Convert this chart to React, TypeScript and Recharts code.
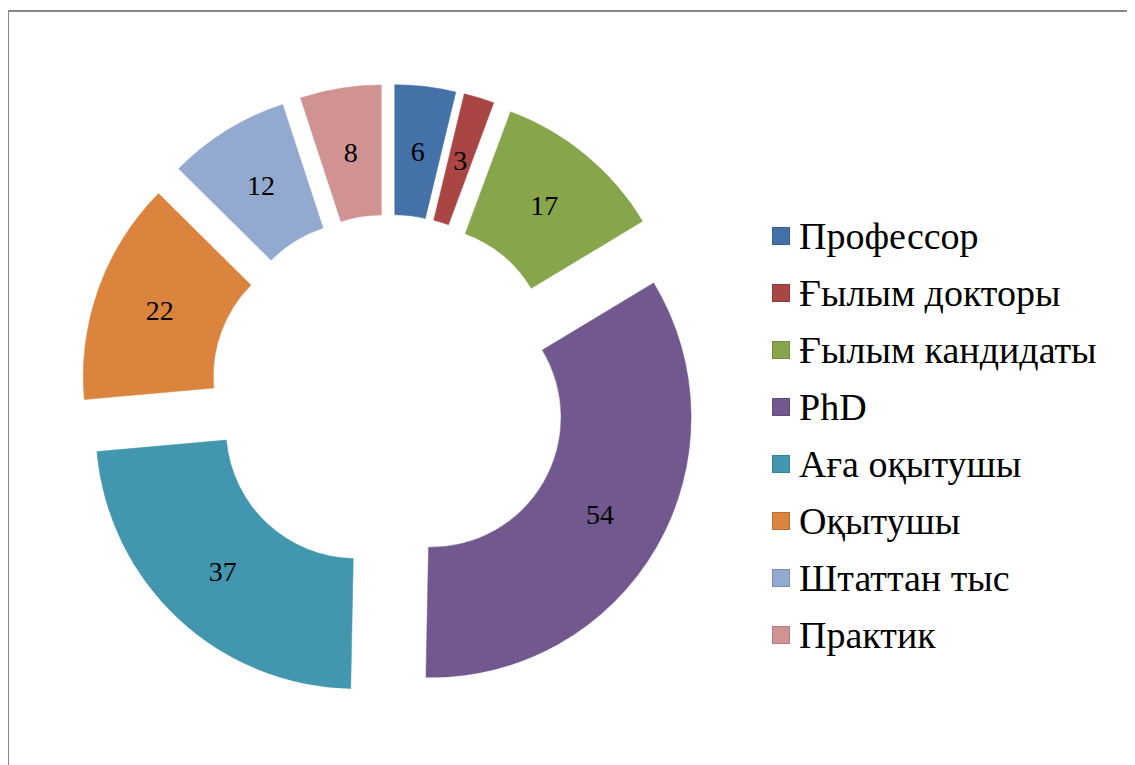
import React from "react";
import { PieChart, Pie, Cell, Sector } from "recharts";

const categories = [
  "Профессор",
  "Ғылым докторы",
  "Ғылым кандидаты",
  "PhD",
  "Аға оқытушы",
  "Оқытушы",
  "Штаттан тыс",
  "Практик",
];
const counts = [6, 3, 17, 54, 37, 22, 12, 8];
const colors = [
  "#4371A8",
  "#A94542",
  "#87A54B",
  "#71588F",
  "#4297AF",
  "#DB843D",
  "#93A9CF",
  "#D09392",
];

const data = categories.map((name, i) => ({ name, value: counts[i] }));

const RADIAN = Math.PI / 180;
const EXPLODE = 48.6;
const FONT = "Liberation Serif, Tinos, DejaVu Serif, Times New Roman, serif";

function offset(midAngle: number) {
  return {
    dx: EXPLODE * Math.cos(-midAngle * RADIAN),
    dy: EXPLODE * Math.sin(-midAngle * RADIAN),
  };
}

function ExplodedSector(props: any) {
  const { dx, dy } = offset(props.midAngle);
  return (
    <Sector
      cx={props.cx + dx}
      cy={props.cy + dy}
      innerRadius={props.innerRadius}
      outerRadius={props.outerRadius}
      startAngle={props.startAngle}
      endAngle={props.endAngle}
      fill={props.fill}
      stroke={props.fill}
      strokeWidth={0.5}
    />
  );
}

function renderLabel(props: any) {
  const { cx, cy, midAngle, innerRadius, outerRadius, value } = props;
  const { dx, dy } = offset(midAngle);
  const r = (innerRadius + outerRadius) / 2;
  const x = cx + dx + r * Math.cos(-midAngle * RADIAN);
  const y = cy + dy + r * Math.sin(-midAngle * RADIAN);
  return (
    <text
      x={x}
      y={y}
      textAnchor="middle"
      dominantBaseline="central"
      style={{ fontFamily: FONT, fontSize: 28 }}
      fill="#000"
    >
      {value}
    </text>
  );
}

function LegendList() {
  return (
    <div style={{ position: "absolute", left: 764, top: 199, fontFamily: FONT }}>
      {categories.map((name, i) => (
        <div key={name} style={{ display: "flex", alignItems: "center", height: 57 }}>
          <div
            style={{
              width: 18,
              height: 18,
              background: colors[i],
              border: "1px solid rgba(0,0,0,0.15)",
              boxSizing: "border-box",
              marginRight: 9,
            }}
          />
          <span style={{ fontSize: 38, color: "#000", whiteSpace: "nowrap" }}>{name}</span>
        </div>
      ))}
    </div>
  );
}

export default function App() {
  return (
    <div style={{ position: "relative", width: 1127, height: 757, overflow: "hidden" }}>
      <div
        style={{
          position: "absolute",
          left: -1,
          top: 2,
          width: 1200,
          height: 800,
          borderTop: "2px solid #888",
          borderLeft: "2px solid #888",
        }}
      />
      <PieChart width={1127} height={757} style={{ position: "absolute", left: 0, top: 0 }}>
        <Pie
          data={data}
          dataKey="value"
          nameKey="name"
          cx={376}
          cy={380}
          innerRadius={130}
          outerRadius={260}
          startAngle={90}
          endAngle={-270}
          stroke="none"
          shape={ExplodedSector}
          label={renderLabel}
          labelLine={false}
          isAnimationActive={false}
        >
          {data.map((d, i) => (
            <Cell key={d.name} fill={colors[i]} />
          ))}
        </Pie>
      </PieChart>
      <LegendList />
    </div>
  );
}
